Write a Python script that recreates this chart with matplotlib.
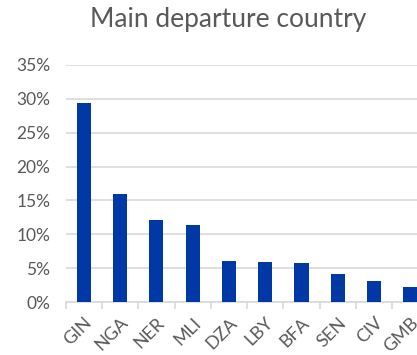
import matplotlib.pyplot as plt
import numpy as np
from matplotlib.ticker import FuncFormatter, MultipleLocator

countries = ['GIN', 'NGA', 'NER', 'MLI', 'DZA', 'LBY', 'BFA', 'SEN', 'CIV', 'GMB']
share = [29.4, 15.9, 12.1, 11.4, 6.1, 5.9, 5.8, 4.1, 3.1, 2.3]

plt.rcParams['font.family'] = ['Lato', 'DejaVu Sans']
grey = '#595959'

fig = plt.figure(figsize=(4.17, 3.55), dpi=100)
# plot area runs a bit past the right edge of the figure
ax = fig.add_axes([0.1576, 0.149, 0.870, 0.668])

x = np.arange(len(countries))
ax.bar(x, share, width=0.39, color='#0039A6', zorder=3)

ax.set_xlim(-0.5, len(countries) - 0.5)
ax.set_ylim(0, 35)
ax.yaxis.set_major_locator(MultipleLocator(5))
ax.yaxis.set_major_formatter(FuncFormatter(lambda v, p: '%d%%' % v))
ax.grid(axis='y', color='#d9d9d9', linewidth=1.2, zorder=0)

for s in ['top', 'right', 'left']:
    ax.spines[s].set_visible(False)
ax.spines['bottom'].set_color('#d9d9d9')
ax.spines['bottom'].set_linewidth(1.2)

ax.set_xticks(x)
ax.set_xticklabels(countries, rotation=45, ha='right', rotation_mode='anchor')
ax.set_xticks(np.arange(-0.5, len(countries)), minor=True)
ax.tick_params(axis='x', which='major', length=0, pad=9, labelsize=13, labelcolor=grey)
ax.tick_params(axis='x', which='minor', length=5, width=1.2, color='#d9d9d9')
ax.tick_params(axis='y', length=0, pad=11, labelsize=12.5, labelcolor=grey)

fig.text(0.547, 0.945, 'Main departure country', ha='center', va='center',
         fontsize=19, color=grey)

fig.savefig('out.png', dpi=100)
